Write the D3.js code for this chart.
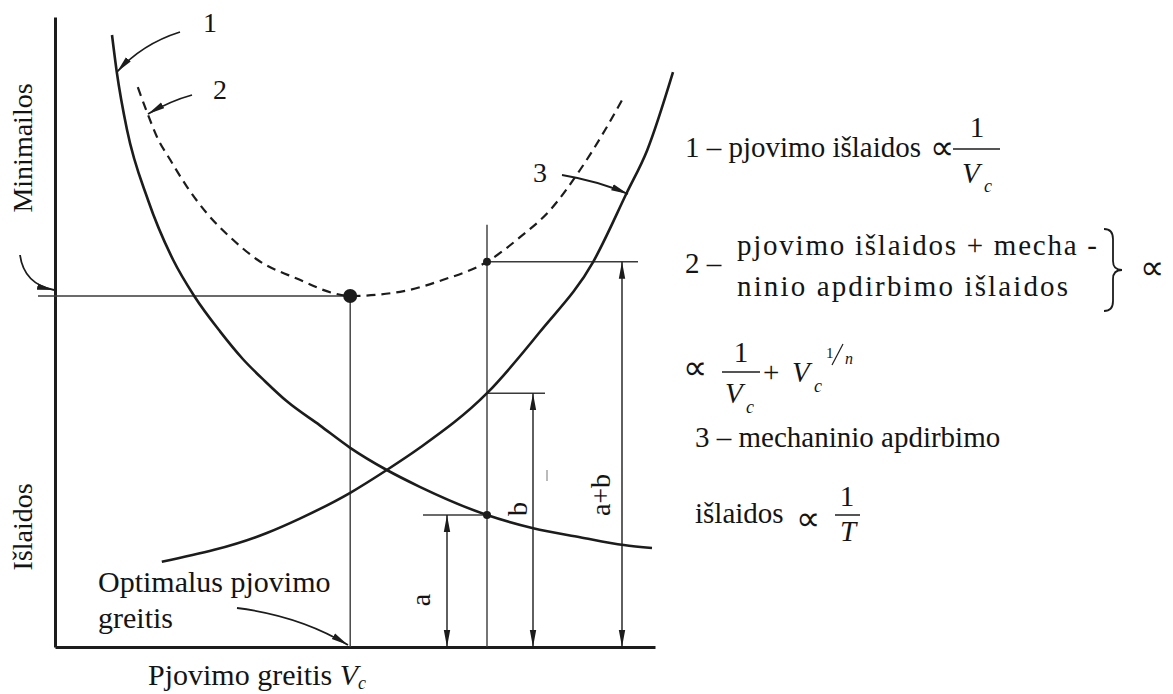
<!DOCTYPE html>
<html>
<head>
<meta charset="utf-8">
<script src="https://cdn.jsdelivr.net/npm/d3@7/dist/d3.min.js"></script>
<style>
  body { margin: 0; background: #fff; }
  svg { display: block; font-family: "Liberation Serif", "Times New Roman", serif; }
</style>
</head>
<body>
<div id="chart"></div>
<script>
// [cutting speed, cost] (arbitrary units)
var cuttingCost = [
  [9.5, 102], [10.3, 95.8], [12, 86.2], [15.5, 74.5], [19.7, 64.5], [23.2, 58.5],
  [27.5, 52.6], [31.3, 48], [35, 44.3], [38.7, 40.9], [44.2, 36.9], [49.2, 33.2],
  [55.3, 29.5], [60.8, 26.7], [72, 22], [79.7, 19.8], [87.5, 18.3], [94.8, 17], [99.5, 16.5]
];
var machiningCost = [
  [17.8, 14.2], [35.3, 19], [40.8, 21.4], [49.2, 25.7], [55.3, 29.5], [60.8, 33.2],
  [72, 42.3], [80.8, 52.5], [89.7, 64.2], [95.3, 75.7], [98.7, 82.8], [103, 95.8]
];
var totalCost = [
  [13.8, 93.3], [15.5, 88.7], [17, 85], [19.2, 81.2], [22, 76.7], [25.3, 72.3],
  [29.2, 68.3], [33.8, 64.5], [40.8, 61.2], [46.3, 59], [49.2, 58.5], [57.5, 59.2],
  [64.7, 61.2], [72, 64.2], [77.5, 68.3], [82.5, 72.8], [87.5, 79.5], [91.7, 86.2],
  [94.7, 91.5]
];
// optimum [speed, cost] and the compared speed [speed, a, b, a+b]
var optimum = [49.2, 58.5];
var compared = [72, 22, 42.3, 64.2];
var curveLabels = ['1', '2', '3'];

var width = 1173, height = 694;
var ink = '#1c1c1c';
var thinInk = '#3a3a3a';

var svg = d3.select('#chart').append('svg')
  .attr('width', width)
  .attr('height', height);

var x = d3.scaleLinear().domain([0, 100]).range([55, 655]);
var y = d3.scaleLinear().domain([0, 105]).range([647, 17]);

// arrow heads
var defs = svg.append('defs');
defs.append('marker')
  .attr('id', 'head')
  .attr('viewBox', '0 -4 17 8')
  .attr('refX', 17).attr('refY', 0)
  .attr('markerWidth', 17).attr('markerHeight', 8)
  .attr('markerUnits', 'userSpaceOnUse')
  .attr('orient', 'auto-start-reverse')
  .append('path')
  .attr('d', 'M0,-3.2L17,0L0,3.2Z')
  .attr('fill', ink);

// axes, no ticks
svg.append('g')
  .attr('transform', 'translate(' + x(0) + ',0)')
  .call(d3.axisLeft(y).tickValues([]).tickSizeOuter(0))
  .select('.domain').attr('stroke', ink).attr('stroke-width', 3);
svg.append('g')
  .attr('transform', 'translate(0,' + y(0) + ')')
  .call(d3.axisBottom(x).tickValues([]).tickSizeOuter(0))
  .select('.domain').attr('stroke', ink).attr('stroke-width', 3);

function seg(x1, y1, x2, y2) {
  return svg.append('line')
    .attr('x1', x1).attr('y1', y1).attr('x2', x2).attr('y2', y2)
    .attr('stroke', thinInk).attr('stroke-width', 1.4);
}

// construction lines
var ox = x(optimum[0]), oy = y(optimum[1]);
var cx = x(compared[0]);
seg(38, oy, ox, oy);
seg(ox, oy, ox, y(0));
seg(cx, y(compared[3]) - 37, cx, y(0));
seg(cx, y(compared[3]), cx + 151, y(compared[3]));
seg(cx, y(compared[2]), cx + 58, y(compared[2]));
seg(cx - 64, y(compared[1]), cx, y(compared[1]));

// dimension arrows a, b, a+b
[[cx - 40, compared[1]], [cx + 46, compared[2]], [cx + 135, compared[3]]].forEach(function (d) {
  seg(d[0], y(d[1]), d[0], y(0))
    .attr('stroke', ink)
    .attr('marker-start', 'url(#head)')
    .attr('marker-end', 'url(#head)');
});
// small stray mark in the scan
seg(cx + 60, 470, cx + 60, 481).attr('stroke', '#bbb').attr('stroke-width', 2);

// curves
var line = d3.line()
  .x(function (d) { return x(d[0]); })
  .y(function (d) { return y(d[1]); })
  .curve(d3.curveMonotoneX);

svg.append('path').datum(cuttingCost)
  .attr('d', line).attr('fill', 'none')
  .attr('stroke', ink).attr('stroke-width', 2.6);
svg.append('path').datum(machiningCost)
  .attr('d', line).attr('fill', 'none')
  .attr('stroke', ink).attr('stroke-width', 2.6);
svg.append('path').datum(totalCost)
  .attr('d', line).attr('fill', 'none')
  .attr('stroke', ink).attr('stroke-width', 2.2)
  .attr('stroke-dasharray', '9,6');

// marked points
svg.append('circle').attr('cx', ox).attr('cy', oy).attr('r', 7).attr('fill', ink);
svg.append('circle').attr('cx', cx).attr('cy', y(compared[3])).attr('r', 4).attr('fill', ink);
svg.append('circle').attr('cx', cx).attr('cy', y(compared[1])).attr('r', 4).attr('fill', ink);

// pointer arrows
var pointers = [
  'M180,32Q142,44 117,72',
  'M192,95Q170,101 148,114',
  'M562,175Q598,181 628,194',
  'M20,255Q24,284 54,290',
  'M237,608Q300,616 348,645'
];
svg.selectAll('.pointer')
  .data(pointers)
  .enter()
  .append('path')
  .attr('class', 'pointer')
  .attr('d', function (d) { return d; })
  .attr('fill', 'none')
  .attr('stroke', ink)
  .attr('stroke-width', 1.8)
  .attr('marker-end', 'url(#head)');

function txt(px, py, s, size, opts) {
  opts = opts || {};
  var t = svg.append('text')
    .attr('x', px).attr('y', py)
    .attr('font-size', size)
    .attr('fill', '#141414')
    .attr('text-anchor', opts.anchor || 'start')
    .text(s);
  if (opts.italic) t.attr('font-style', 'italic');
  if (opts.length) t.attr('textLength', opts.length).attr('lengthAdjust', 'spacing');
  if (opts.rotate) {
    t.attr('x', 0).attr('y', 0)
      .attr('transform', 'translate(' + px + ',' + py + ') rotate(-90)');
  }
  return t;
}

function bar(x1, x2, py) {
  svg.append('line')
    .attr('x1', x1).attr('x2', x2).attr('y1', py).attr('y2', py)
    .attr('stroke', ink).attr('stroke-width', 1.5);
}

// curve numbers
txt(210, 32, curveLabels[0], 28, { anchor: 'middle' });
txt(220, 99, curveLabels[1], 28, { anchor: 'middle' });
txt(540, 182, curveLabels[2], 28, { anchor: 'middle' });

// dimension labels
txt(430, 600, 'a', 28, { anchor: 'middle', rotate: true });
txt(527, 509, 'b', 28, { anchor: 'middle', rotate: true });
txt(610, 495, 'a+b', 28, { anchor: 'middle', rotate: true });

// axis titles
txt(32, 148, 'Minimailos', 28, { anchor: 'middle', rotate: true });
txt(32, 527, 'Išlaidos', 28, { anchor: 'middle', rotate: true });
txt(98, 592, 'Optimalus pjovimo', 30);
txt(98, 628, 'greitis', 30);
var xt = txt(148, 685, 'Pjovimo greitis ', 30);
xt.append('tspan').attr('font-style', 'italic').text('V');
xt.append('tspan').attr('font-style', 'italic').attr('font-size', 18).attr('dy', 4).text('c');

// legend formulas
txt(685, 157, '1 – pjovimo išlaidos', 29);
txt(930, 159, '∝', 34);
txt(977, 137, '1', 29, { anchor: 'middle' });
bar(953, 1000, 149);
txt(962, 183, 'V', 29, { italic: true });
txt(984, 192, 'c', 18, { italic: true });

txt(685, 273, '2 –', 29);
txt(737, 255, 'pjovimo išlaidos + mecha -', 29, { length: 360 });
txt(737, 296, 'ninio apdirbimo išlaidos', 29, { length: 331 });
svg.append('path')
  .attr('d', 'M1104,229Q1113,229 1113,239L1113,261Q1113,270 1122,270Q1113,270 1113,279L1113,301Q1113,311 1104,311')
  .attr('fill', 'none').attr('stroke', ink).attr('stroke-width', 1.8);
txt(1140, 279, '∝', 34);

txt(683, 379, '∝', 34);
txt(741, 362, '1', 29, { anchor: 'middle' });
bar(722, 760, 372);
txt(725, 403, 'V', 29, { italic: true });
txt(746, 413, 'c', 18, { italic: true });
txt(763, 382, '+', 29);
txt(792, 382, 'V', 29, { italic: true });
txt(814, 392, 'c', 18, { italic: true });
txt(826, 358, '1', 15);
svg.append('line')
  .attr('x1', 832).attr('y1', 365).attr('x2', 843).attr('y2', 344)
  .attr('stroke', ink).attr('stroke-width', 1.2);
txt(845, 364, 'n', 16, { italic: true });

txt(695, 447, '3 – mechaninio apdirbimo', 29);
txt(695, 523, 'išlaidos', 29);
txt(796, 530, '∝', 34);
txt(847, 506, '1', 29, { anchor: 'middle' });
bar(835, 860, 515);
txt(848, 541, 'T', 29, { anchor: 'middle', italic: true });
</script>
</body>
</html>
